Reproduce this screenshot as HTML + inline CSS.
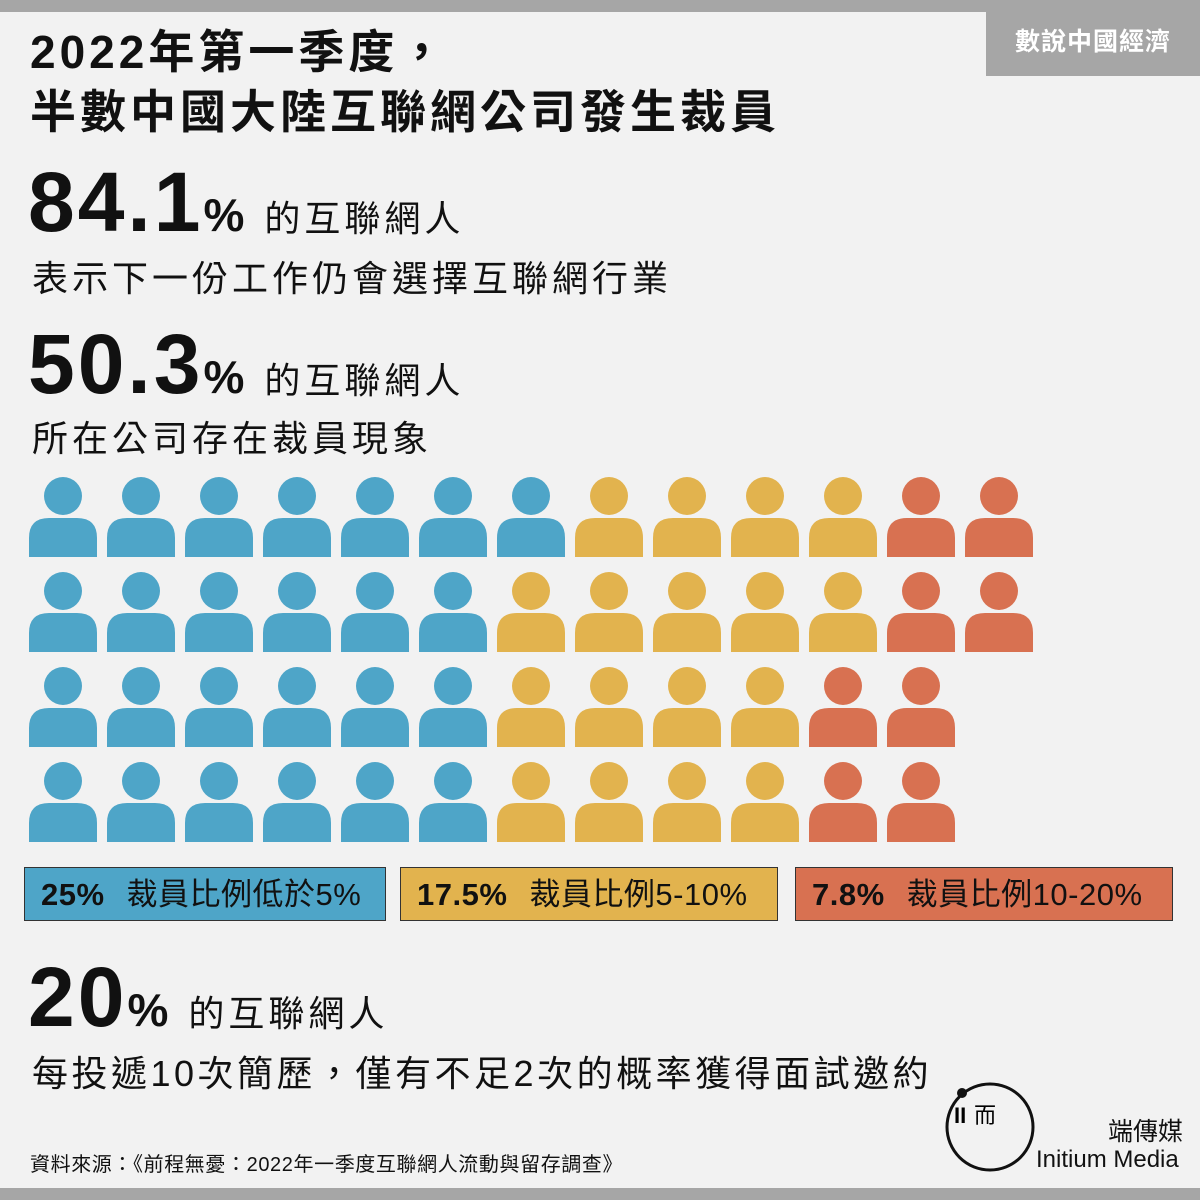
<!DOCTYPE html>
<html><head><meta charset="utf-8"><style>
body{margin:0;width:1200px;height:1200px;background:#f2f2f2;position:relative;overflow:hidden;font-family:"Liberation Sans","Noto Sans CJK TC",sans-serif;color:#111}
.abs{position:absolute;white-space:nowrap}
.big{font-weight:bold;font-size:84px;letter-spacing:3px}
.pct{font-weight:bold;font-size:46px;margin-right:20px}
.sub{font-size:36px;letter-spacing:4px}
.leg{position:absolute;top:867px;height:54px;border:1px solid #333;font-size:31px;line-height:54px;box-sizing:border-box;padding-left:16px;letter-spacing:0.5px}
.leg b{margin-right:22px}
</style></head><body>
<div class="abs" style="left:0;top:0;width:1200px;height:12px;background:#a6a6a6"></div>
<div class="abs" style="left:0;top:1188px;width:1200px;height:12px;background:#a6a6a6"></div>
<div class="abs" style="left:986px;top:12px;width:214px;height:64px;background:#a6a6a6;color:#fff;font-weight:bold;font-size:25px;line-height:60px;text-align:center;letter-spacing:1px">數說中國經濟</div>
<div class="abs" style="left:30px;top:22px;font-weight:bold;font-size:46px;line-height:60px;letter-spacing:4px">2022年第一季度，<br>半數中國大陸互聯網公司發生裁員</div>

<div class="abs" style="left:28px;top:154px"><span class="big">84.1</span><span class="pct">%</span><span class="sub">的互聯網人</span></div>
<div class="abs sub" style="left:32px;top:250px">表示下一份工作仍會選擇互聯網行業</div>
<div class="abs" style="left:28px;top:316px"><span class="big">50.3</span><span class="pct">%</span><span class="sub">的互聯網人</span></div>
<div class="abs sub" style="left:32px;top:410px">所在公司存在裁員現象</div>

<svg class="abs" style="left:0;top:460px" width="1200" height="400" id="pic"></svg>

<div class="leg" style="left:24px;width:362px;background:#4ea5c8"><b>25%</b>裁員比例低於5%</div>
<div class="leg" style="left:400px;width:378px;background:#e2b34e"><b>17.5%</b>裁員比例5-10%</div>
<div class="leg" style="left:795px;width:378px;background:#d87151"><b>7.8%</b>裁員比例10-20%</div>

<div class="abs" style="left:28px;top:949px"><span class="big">20</span><span class="pct">%</span><span class="sub">的互聯網人</span></div>
<div class="abs sub" style="left:32px;top:1045px;letter-spacing:3.5px">每投遞10次簡歷，僅有不足2次的概率獲得面試邀約</div>
<div class="abs" style="left:30px;top:1148px;font-size:20px;letter-spacing:0.6px">資料來源：《前程無憂：2022年一季度互聯網人流動與留存調查》</div>

<svg class="abs" style="left:940px;top:1075px" width="110" height="100">
<circle cx="50" cy="52" r="43" fill="none" stroke="#111" stroke-width="3"/>
<circle cx="22" cy="18" r="5" fill="#111"/>
<text x="14" y="48" font-size="22" font-weight="bold" font-family="Liberation Sans">II</text>
<text x="34" y="48" font-size="22" font-family="Noto Sans CJK TC">而</text>
</svg>
<div class="abs" style="left:1108px;top:1112px;font-size:25px">端傳媒</div>
<div class="abs" style="left:1036px;top:1146px;font-size:24px">Initium Media</div>

<script>
const rowBlue=[7,6,6,6];
const rowYellow=[4,5,4,4];
const rowRed=[2,2,2,2];
const colors={blue:"#4ea5c8",yellow:"#e2b34e",red:"#d87151"};
const svg=document.getElementById('pic');
const NS="http://www.w3.org/2000/svg";
const colX=i=>63+i*78;
const rowY=r=>36+r*95;
for(let r=0;r<rowBlue.length;r++){
  const seq=[];
  for(let i=0;i<rowBlue[r];i++)seq.push('blue');
  for(let i=0;i<rowYellow[r];i++)seq.push('yellow');
  for(let i=0;i<rowRed[r];i++)seq.push('red');
  seq.forEach((c,i)=>{
    const cx=colX(i),cy=rowY(r);
    const g=document.createElementNS(NS,'g');
    
    
    g.setAttribute('fill',colors[c]);
    const h=document.createElementNS(NS,'circle');
    h.setAttribute('cx',cx);h.setAttribute('cy',cy);h.setAttribute('r',19);
    const b=document.createElementNS(NS,'path');
    const t=cy+22,btm=cy+61;
    b.setAttribute('d',`M${cx-34} ${btm} L${cx-34} ${t+20} Q${cx-34} ${t} ${cx-14} ${t} L${cx+14} ${t} Q${cx+34} ${t} ${cx+34} ${t+20} L${cx+34} ${btm} Z`);
    g.appendChild(h);g.appendChild(b);svg.appendChild(g);
  });
}
</script>
</body></html>
